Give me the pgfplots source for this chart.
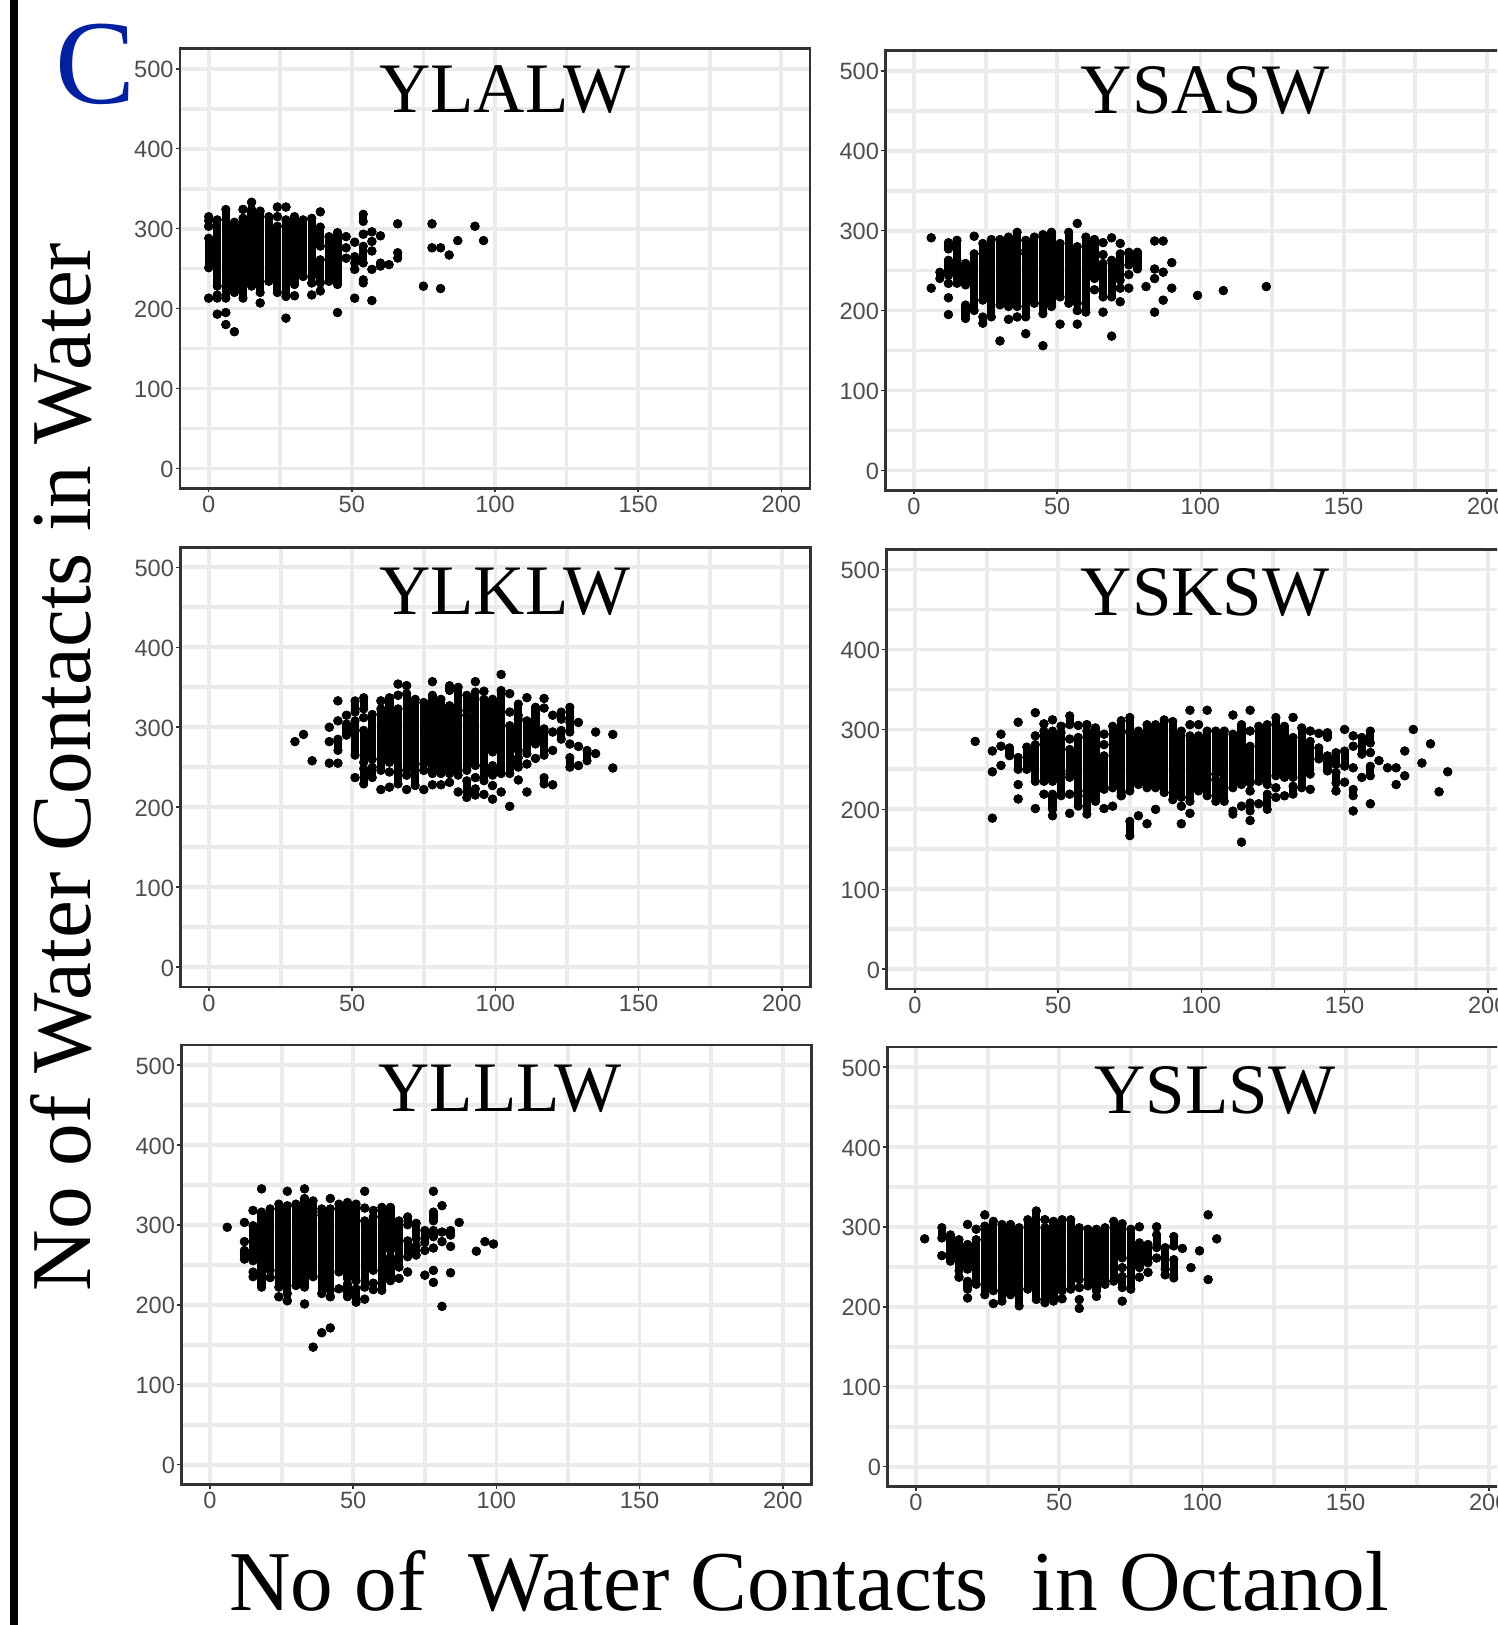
\documentclass[border=0pt]{standalone}
\usepackage{pgfplots}
\usepackage{pgfplotstable}
\usepackage{fontspec}
\setmainfont{Liberation Sans}
\newfontfamily\tms{Liberation Serif}
\pgfplotsset{compat=1.18}
\definecolor{gridc}{HTML}{EBEBEB}
\definecolor{framec}{HTML}{333333}
\definecolor{tickc}{HTML}{4D4D4D}
\definecolor{letterc}{HTML}{0020A0}
\pgfplotstableread{
x hi lo
0 315 310
0 303 303
0 288 251
0 213 213
3 311 228
3 217 213
3 193 193
6 324 213
6 195 195
6 180 180
9 308 220
9 171 171
12 324 324
12 313 213
15 333 333
15 324 228
18 322 220
18 207 207
21 315 234
24 327 327
24 315 315
24 303 220
27 327 327
27 311 215
27 188 188
30 315 230
30 216 216
33 311 240
36 313 240
36 232 232
36 217 217
39 321 321
39 302 278
39 261 232
39 222 222
42 290 234
45 295 230
45 195 195
48 290 290
48 276 276
48 263 263
51 283 283
51 265 257
51 249 249
51 213 213
54 318 309
54 293 293
54 278 257
54 236 232
57 296 296
57 284 284
57 272 272
57 249 249
57 210 210
60 291 291
60 257 253
63 255 255
66 306 306
66 270 263
75 228 228
78 306 306
78 276 276
81 276 276
81 225 225
84 267 267
87 285 285
93 303 303
96 285 285
}\tA
\pgfplotstableread{
x hi lo
6 291 291
6 228 228
9 248 240
12 285 277
12 263 244
12 234 234
12 216 216
12 195 195
15 288 263
15 259 234
18 259 232
18 207 190
21 293 293
21 271 200
24 284 213
24 192 184
27 289 192
30 289 207
30 162 162
33 292 205
33 189 189
36 298 205
36 192 192
39 288 275
39 271 192
39 171 171
42 292 209
45 295 196
45 156 156
48 298 205
51 284 217
51 183 183
54 298 209
57 309 309
57 280 209
57 200 200
57 183 183
60 292 198
63 289 240
63 226 226
66 285 285
66 270 270
66 259 217
66 198 198
69 291 291
69 263 217
69 168 168
72 284 284
72 271 238
72 228 228
72 211 211
75 273 257
75 245 245
75 228 228
78 273 252
81 230 230
84 287 287
84 252 252
84 240 240
84 198 198
87 287 287
87 248 248
87 213 213
90 260 260
90 228 228
99 219 219
108 225 225
123 230 230
}\tB
\pgfplotstableread{
x hi lo
30 282 282
33 291 291
36 258 258
42 300 300
42 282 282
42 255 255
45 333 333
45 308 308
45 285 271
45 255 255
48 315 315
48 304 290
51 333 319
51 308 265
51 237 237
54 337 323
54 312 312
54 296 256
54 248 229
57 316 260
57 250 237
60 333 333
60 323 246
60 222 222
63 337 256
63 244 244
63 225 225
66 354 354
66 340 340
66 323 229
69 352 352
69 342 246
69 240 240
69 222 222
72 335 227
75 331 254
75 246 246
75 222 222
78 357 357
78 340 242
78 228 228
81 335 242
81 228 228
84 352 346
84 327 242
84 231 231
87 350 240
87 219 219
90 340 321
90 315 246
90 233 212
93 357 357
93 344 252
93 237 237
93 223 215
96 345 345
96 335 233
96 216 216
99 335 269
99 252 240
99 227 227
99 210 210
102 366 366
102 346 242
102 219 219
105 342 342
105 319 319
105 302 242
105 201 201
108 329 315
108 310 271
108 262 250
108 234 234
111 337 337
111 308 267
111 254 254
111 219 219
114 325 279
114 261 261
117 336 336
117 324 324
117 298 265
117 237 229
120 315 315
120 294 294
120 271 271
120 228 228
123 319 310
123 296 285
126 325 312
126 306 294
126 279 279
126 262 250
129 306 306
129 276 276
129 252 252
132 271 258
135 294 294
135 267 267
141 291 291
141 249 249
}\tC
\pgfplotstableread{
x hi lo
21 285 285
27 273 273
27 247 247
27 189 189
30 294 294
30 279 279
30 255 255
33 277 267
36 309 309
36 265 250
36 231 231
36 213 213
39 278 250
42 321 321
42 292 292
42 281 235
42 201 201
45 307 307
45 298 235
45 219 219
48 312 312
48 298 235
48 219 200
48 192 192
51 304 304
51 296 248
51 244 217
54 317 306
54 288 288
54 275 240
54 219 219
54 195 195
57 305 305
57 290 204
60 306 306
60 298 223
60 217 194
63 302 210
66 294 294
66 281 281
66 267 225
66 201 201
69 304 227
69 204 204
72 311 298
72 296 221
72 217 217
75 315 223
75 185 167
78 298 231
78 192 192
81 306 227
81 182 182
84 306 227
84 200 200
87 312 221
90 310 212
93 298 215
93 204 204
93 182 182
96 324 324
96 306 306
96 292 210
96 195 195
99 306 306
99 292 223
102 324 324
102 298 217
105 298 244
105 237 210
108 298 210
111 318 318
111 294 227
111 198 194
114 306 231
114 204 204
114 159 159
117 324 324
117 298 298
117 279 233
117 223 223
117 208 198
117 186 186
120 304 235
120 207 207
123 306 231
123 219 200
126 315 242
126 227 227
126 215 215
129 304 240
129 217 217
132 315 315
132 290 240
132 229 219
135 302 227
138 298 298
138 285 244
138 225 225
141 295 295
141 277 263
144 296 290
144 267 248
147 271 256
147 246 233
147 223 223
150 300 300
150 273 254
150 234 234
153 292 292
153 279 279
153 252 252
153 225 217
153 198 198
156 290 269
156 240 240
159 298 283
159 271 271
159 254 242
159 207 207
162 261 261
165 252 252
168 252 252
168 231 231
171 273 273
171 242 242
174 300 300
177 258 258
180 282 282
183 222 222
186 247 247
}\tD
\pgfplotstableread{
x hi lo
6 297 297
12 303 303
12 279 279
12 268 257
15 318 318
15 299 255
15 241 235
18 345 345
18 316 222
21 320 243
21 234 234
24 326 222
24 210 210
27 342 342
27 324 214
27 205 205
30 326 224
33 345 345
33 333 222
33 201 201
36 330 316
36 312 235
36 147 147
39 320 214
39 165 165
42 333 333
42 320 218
42 210 210
42 171 171
45 326 241
45 220 220
48 328 233
48 226 210
51 326 230
51 220 203
54 342 342
54 321 321
54 305 222
54 207 207
57 318 318
57 310 243
57 227 227
57 219 219
60 322 218
63 322 268
63 260 230
66 305 247
66 233 233
69 310 300
69 280 260
69 241 241
72 302 283
72 274 262
75 293 278
75 268 268
75 237 237
78 342 342
78 316 305
78 293 285
78 271 271
78 243 243
78 228 228
81 324 324
81 291 291
81 279 279
81 198 198
84 293 287
84 273 273
84 240 240
87 303 303
93 267 267
96 279 279
99 276 276
}\tE
\pgfplotstableread{
x hi lo
3 285 285
9 299 286
9 264 264
12 290 257
15 284 245
15 237 237
18 303 303
18 278 247
18 232 222
18 211 211
21 297 297
21 284 228
24 315 315
24 301 215
27 307 220
27 204 204
30 303 207
33 303 215
36 299 201
39 309 222
42 320 209
45 309 309
45 299 205
48 307 207
51 309 220
51 210 210
54 309 222
57 299 234
57 224 224
57 209 209
57 198 198
60 297 226
63 297 220
63 213 213
66 299 228
69 307 232
72 304 261
72 249 249
72 238 224
72 207 207
75 297 222
78 300 300
78 280 249
78 237 237
81 278 255
81 243 243
84 300 300
84 290 274
84 261 261
87 274 247
87 240 240
90 288 276
90 259 236
93 273 273
96 249 249
99 270 270
102 315 315
102 234 234
105 285 285
}\tF
\pgfplotsset{
  panel/.style={
    scale only axis, width=315pt, height=219.8pt, anchor=north west,
    xmin=-10, xmax=210, ymin=-25, ymax=525,
    xtick={0,50,100,150,200}, ytick={0,100,200,300,400,500},
    minor x tick num=1, minor y tick num=1,
    grid=both,
    major grid style={gridc, line width=1.9pt},
    minor grid style={gridc, line width=1.9pt},
    axis line style={framec, line width=1.3pt},
    tick align=outside, tick pos=left,
    major tick length=2pt, minor tick length=0pt,
    tick style={framec, line width=0.75pt},
    /pgf/number format/assume math mode=true,
    ticklabel style={tickc, font=\fontsize{11.8}{12}\selectfont},
    xticklabel style={yshift=1.6pt},
    yticklabel style={xshift=2.3pt, yshift=-0.5pt},
    scaled ticks=false,
    legend style={draw=none},
  },
}
\newcommand{\panel}[3]{%
\begin{axis}[panel, at={(#1pt,#2pt)}]
\addplot[only marks, mark=*, mark size=2.1pt, mark options={black, draw=none},
  error bars/.cd, y dir=minus, y explicit, error mark=none,
  error bar style={black, line width=4.1pt, line cap=round}]
  table[x=x, y=hi, y error expr=\thisrow{hi}-\thisrow{lo}] {#3};
\addplot[only marks, mark=*, mark size=2.1pt, mark options={black, draw=none}]
  table[x=x, y=lo] {#3};
\end{axis}}
\newcommand{\ttl}[3]{\node[anchor=base, inner sep=0pt, font=\tms\fontsize{35.5}{37}\selectfont] at (#1pt,#2pt) {#3};}
\begin{document}
\begin{tikzpicture}
\clip[use as bounding box] (0,0) rectangle (748.5pt,-812.5pt);
\fill[black] (5.2pt,0pt) rectangle (9.1pt,-812.5pt);
\panel{90}{-24.4}{\tA}
\panel{442.7}{-25.4}{\tB}
\panel{90.2}{-273.7}{\tC}
\panel{443.2}{-274.8}{\tD}
\panel{90.7}{-522.5}{\tE}
\panel{443.7}{-523.5}{\tF}
\ttl{252.4}{-56.5}{YLALW}
\ttl{602.6}{-57}{YSASW}
\ttl{252.4}{-307}{YLKLW}
\ttl{602.6}{-307.5}{YSKSW}
\ttl{250}{-555.5}{YLLLW}
\ttl{607.5}{-556.5}{YSLSW}
\node[anchor=base, inner sep=0pt, text=letterc, font=\tms\fontsize{60}{62}\selectfont] at (48pt,-52pt) {C};
\node[rotate=90, anchor=base, inner sep=0pt, font=\tms\fontsize{42.6}{44}\selectfont] at (45.2pt,-383.6pt) {No of Water Contacts in Water};
\node[anchor=base, inner sep=0pt, font=\tms\fontsize{42.6}{44}\selectfont] at (404.5pt,-805.2pt) {No of\ \ Water Contacts\ \ in Octanol};
\end{tikzpicture}
\end{document}
